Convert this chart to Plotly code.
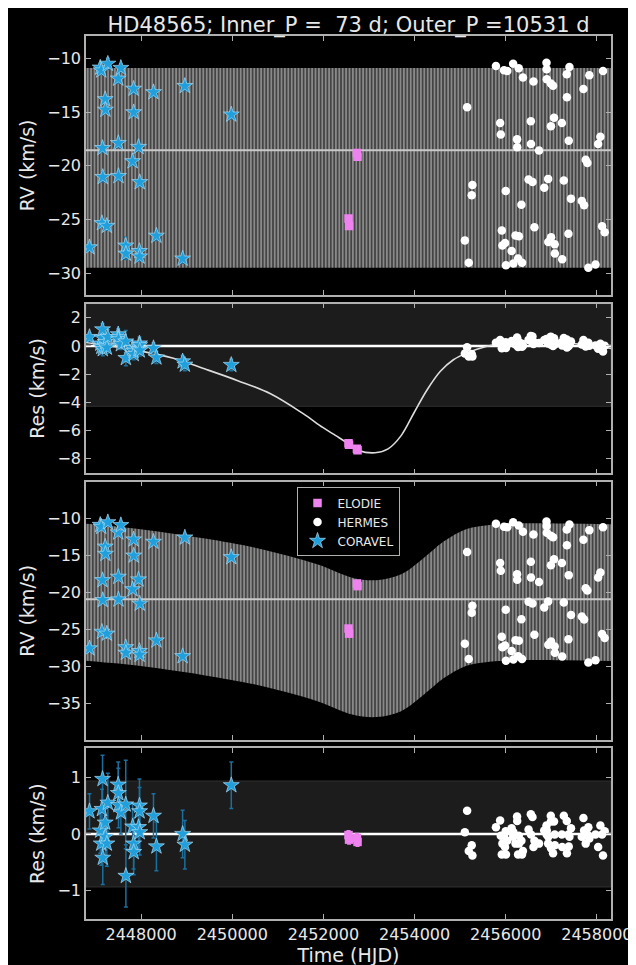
import plotly.graph_objects as go

TITLE = "HD48565; Inner_P =  73 d; Outer_P =10531 d"

# ---------------- data ----------------
coravel_t = [2446867, 2447103, 2447125, 2447140, 2447153, 2447158, 2447211, 2447216, 2447247, 2447269,
             2447497, 2447500, 2447503, 2447555, 2447662, 2447665, 2447813, 2447834, 2447837, 2447942,
             2447963, 2447966, 2447970, 2448271, 2448335, 2448910, 2448959, 2449978]
coravel_rv = [-27.6, -10.86, -11.12, -25.35, -18.35, -21.05, -13.8, -14.78, -25.6, -10.5,
              -11.88, -17.89, -20.96, -10.89, -27.44, -28.19, -19.58, -12.83, -15.02, -18.25,
              -27.95, -28.46, -21.53, -13.15, -26.52, -28.65, -12.57, -15.23]
coravel_res_inner = [0.63, 0.16, -0.07, 0.59, 1.17, -0.23, 0.27, 0.0, -0.12, 0.63,
                     0.82, 0.62, 0.47, 0.12, 0.31, -0.86, -0.15, -0.35, -0.58, -0.23,
                     0.17, 0.05, -0.32, -0.16, -0.82, -1.1, -1.33, -1.35]
coravel_res_full = [0.40, 0.06, -0.17, 0.44, 0.97, -0.42, 0.20, -0.05, -0.17, 0.55,
                    0.87, 0.72, 0.51, 0.38, 0.52, -0.74, 0.13, -0.17, -0.32, 0.12,
                    0.50, 0.40, 0.03, 0.32, -0.22, 0.0, -0.19, 0.86]
coravel_err = [0.31, 0.40, 0.38, 0.35, 0.42, 0.47, 0.40, 0.38, 0.40, 0.52,
               0.40, 0.44, 0.40, 0.38, 0.78, 0.55, 0.40, 0.45, 0.40, 0.40,
               0.47, 0.42, 0.40, 0.39, 0.43, 0.42, 0.43, 0.41]

elodie_t = [2452550, 2452562, 2452735, 2452748]
elodie_rv = [-24.9, -25.6, -18.8, -19.15]
elodie_res_inner = [-6.9, -7.0, -7.3, -7.4]
elodie_res_full = [-0.02, -0.10, -0.07, -0.14]
elodie_err = [0.08, 0.08, 0.08, 0.08]

hermes_t = [2455103, 2455153, 2455189, 2455254, 2455269, 2455785, 2455877, 2455892, 2455914, 2455927,
            2455963, 2455985, 2456000, 2456005, 2456034, 2456129, 2456163, 2456168, 2456215, 2456249,
            2456252, 2456271, 2456286, 2456290, 2456344, 2456357, 2456378, 2456501, 2456551, 2456554,
            2456587, 2456609, 2456630, 2456731, 2456845, 2456895, 2456898, 2456901, 2456931, 2456934,
            2456989, 2456992, 2456995, 2457039, 2457060, 2457075, 2457078, 2457232, 2457239, 2457275,
            2457340, 2457343, 2457376, 2457383, 2457398, 2457432, 2457669, 2457705, 2457720, 2457755,
            2457792, 2457813, 2457835, 2457970, 2458028, 2458077, 2458114, 2458135, 2458172]
hermes_rv = [-26.95, -14.54, -29.04, -22.75, -21.8, -10.7, -16.01, -17.08, -26.03, -27.42,
             -11.1, -27.2, -22.35, -29.26, -11.16, -27.94, -10.49, -29.1, -26.5, -17.54,
             -18.28, -28.64, -10.92, -26.56, -23.64, -29.04, -11.78, -21.28, -15.85, -17.97,
             -21.5, -12.14, -25.73, -18.58, -22.05, -10.4, -11.01, -11.93, -21.22, -27.11,
             -12.33, -16.31, -26.65, -12.54, -15.52, -27.32, -28.18, -16.01, -28.7, -21.37,
             -11.47, -13.62, -26.34, -17.66, -10.79, -23.06, -23.27, -12.85, -23.67, -19.44,
             -19.75, -29.5, -11.56, -29.19, -17.97, -17.3, -25.64, -11.16, -26.19]
hermes_res_inner = [-0.53, -0.09, -0.75, -0.58, -0.75, 0.22, 0.42, 0.15, -0.17, 0.02,
                    0.17, -0.03, 0.26, -0.15, 0.10, 0.35, 0.21, 0.29, 0.10, 0.59,
                    0.51, -0.08, 0.26, 0.12, 0.18, -0.06, 0.01, 0.43, 0.71, 0.35,
                    0.67, 0.14, 0.25, 0.20, 0.42, 0.50, 0.34, 0.41, 0.18, 0.30,
                    0.66, 0.56, 0.09, -0.01, 0.55, 0.31, 0.12, 0.26, 0.04, 0.57,
                    0.46, -0.11, 0.21, 0.0, 0.17, 0.31, 0.10, 0.42, 0.20, -0.04,
                    0.11, 0.23, 0.02, 0.04, -0.20, 0.16, -0.01, -0.39, 0.02]
hermes_res_full = [0.03, 0.41, -0.30, -0.20, -0.38, 0.12, 0.24, -0.03, -0.36, -0.17,
                   -0.03, -0.23, 0.05, -0.36, -0.12, 0.10, -0.05, 0.03, -0.17, 0.31,
                   0.23, -0.36, -0.03, -0.17, -0.12, -0.36, -0.30, 0.08, 0.35, -0.01,
                   0.30, -0.23, -0.12, -0.17, 0.06, 0.15, -0.01, 0.06, -0.17, -0.05,
                   0.32, 0.22, -0.25, -0.34, 0.22, -0.01, -0.20, -0.01, -0.23, 0.32,
                   0.23, -0.34, -0.01, -0.22, -0.05, 0.10, -0.05, 0.28, 0.06, -0.17,
                   -0.01, 0.12, -0.08, -0.01, -0.23, 0.15, -0.01, -0.38, 0.05]

# model envelopes
inner_env_t = [2446790, 2458310]
inner_upper = [-10.9, -10.9]
inner_lower = [-29.5, -29.5]
inner_gamma = -18.56

full_env_t = [2446790, 2447500, 2448329, 2449404, 2450480, 2451196, 2451914, 2452630, 2453168,
              2453705, 2454206, 2454637, 2455140, 2455641, 2456215, 2457300, 2458310]
full_upper = [-10.7, -11.1, -11.7, -12.7, -13.9, -15.0, -16.3, -18.0, -18.35,
              -17.55, -15.3, -13.1, -11.4, -10.85, -10.65, -10.65, -10.75]
full_lower = [-29.25, -29.65, -30.25, -31.25, -32.45, -33.55, -34.85, -36.55, -36.9,
              -36.1, -33.85, -31.65, -29.95, -29.4, -29.2, -29.2, -29.3]
full_gamma = -20.94

outer_t = [2446790, 2447970, 2448688, 2449404, 2450120, 2450839, 2451555, 2451985, 2452271, 2452559,
           2452774, 2453131, 2453419, 2453705, 2453991, 2454280, 2454566, 2454852, 2455140, 2455570,
           2456000, 2456572, 2457290, 2458310]
outer_res = [0.24, -0.35, -0.86, -1.64, -2.46, -3.39, -4.8, -5.78, -6.36, -6.95,
             -7.41, -7.58, -7.3, -6.36, -4.72, -3.09, -1.8, -0.98, -0.51, -0.04,
             0.24, 0.38, 0.24, -0.17]

band2 = [-4.28, 3.0]
band4 = [-0.935, 0.935]

x_range = [2446790, 2458310]
x_ticks = [2448000, 2450000, 2452000, 2454000, 2456000, 2458000]
y_ranges = {1: [-32.02, -7.91], 2: [-9.03, 3.0], 3: [-40.0, -5.0], 4: [-1.50, 1.51]}
y_ticks = {1: [-30, -25, -20, -15, -10], 2: [-8, -6, -4, -2, 0, 2],
           3: [-35, -30, -25, -20, -15, -10], 4: [-1, 0, 1]}
y_titles = {1: "RV (km/s)", 2: "Res (km/s)", 3: "RV (km/s)", 4: "Res (km/s)"}
domains = {1: [0.7069, 1.0], 2: [0.5048, 0.6969], 3: [0.2028, 0.4952], 4: [0.0, 0.1932]}

# ---------------- styles ----------------
FONT = "DejaVu Sans"
TXT = "#e8e8e8"
FRAME = "#b0b0b0"
STAR_COL = "#1f9fdb"
ERR_COL = "#1b6f9c"
ELODIE_COL = "#ee82ee"

fig = go.Figure()


def axn(i):
    return ("x" if i == 1 else f"x{i}"), ("y" if i == 1 else f"y{i}")


def add_band(i, t, up, lo):
    xa, ya = axn(i)
    fig.add_trace(go.Scatter(x=t, y=up, mode="lines", line=dict(width=0, shape="spline"),
                             xaxis=xa, yaxis=ya, showlegend=False, hoverinfo="skip"))
    fig.add_trace(go.Scatter(x=t, y=lo, mode="lines", line=dict(width=0, shape="spline"),
                             fill="tonexty",
                             fillpattern=dict(shape="|", fgcolor="#f0f0f0", bgcolor="#444444",
                                              size=3.4, solidity=0.4),
                             xaxis=xa, yaxis=ya, showlegend=False, hoverinfo="skip"))


def add_hline_trace(i, y, color, width):
    xa, ya = axn(i)
    fig.add_trace(go.Scatter(x=x_range, y=[y, y], mode="lines", line=dict(color=color, width=width),
                             xaxis=xa, yaxis=ya, showlegend=False, hoverinfo="skip"))


def add_data(i, e_vals, h_vals, c_vals, legend):
    xa, ya = axn(i)
    fig.add_trace(go.Scatter(x=elodie_t, y=e_vals, mode="markers", name="ELODIE",
                             marker=dict(symbol="square", size=8.5, color=ELODIE_COL, line=dict(width=0)),
                             error_y=dict(type="data", array=elodie_err, color=ELODIE_COL, thickness=1.2, width=2),
                             xaxis=xa, yaxis=ya, showlegend=legend))
    fig.add_trace(go.Scatter(x=hermes_t, y=h_vals, mode="markers", name="HERMES",
                             marker=dict(symbol="circle", size=8.5, color="white", line=dict(width=0)),
                             xaxis=xa, yaxis=ya, showlegend=legend))
    fig.add_trace(go.Scatter(x=coravel_t, y=c_vals, mode="markers", name="CORAVEL",
                             marker=dict(symbol="star", size=12, color=STAR_COL,
                                         line=dict(color="#a8d8f0", width=0.7)),
                             error_y=dict(type="data", array=coravel_err, color=ERR_COL, thickness=1.5, width=2),
                             xaxis=xa, yaxis=ya, showlegend=legend))


# panel 1: inner-orbit model
add_band(1, inner_env_t, inner_upper, inner_lower)
add_hline_trace(1, inner_gamma, "#c8c8c8", 2)
add_data(1, elodie_rv, hermes_rv, coravel_rv, False)

# panel 2: residuals of inner orbit, outer orbit curve
xa, ya = axn(2)
fig.add_trace(go.Scatter(x=outer_t, y=outer_res, mode="lines", line=dict(color="#dcdcdc", width=1.6, shape="spline"),
                         xaxis=xa, yaxis=ya, showlegend=False, hoverinfo="skip"))
add_data(2, elodie_res_inner, hermes_res_inner, coravel_res_inner, False)

# panel 3: full model
add_band(3, full_env_t, full_upper, full_lower)
add_hline_trace(3, full_gamma, "#c8c8c8", 2)
add_data(3, elodie_rv, hermes_rv, coravel_rv, True)

# panel 4: residuals of the full model
add_data(4, elodie_res_full, hermes_res_full, coravel_res_full, False)

# shapes: grey bands and zero lines
shapes = []
for i, band in ((2, band2), (4, band4)):
    xa, ya = axn(i)
    shapes.append(dict(type="rect", xref=f"{xa} domain", yref=ya, x0=0, x1=1, y0=band[0], y1=band[1],
                       fillcolor="#1c1c1c", line=dict(color="#303030", width=1), layer="below"))
    shapes.append(dict(type="line", xref=f"{xa} domain", yref=ya, x0=0, x1=1, y0=0, y1=0,
                       line=dict(color="white", width=2.5), layer="below"))

axis_common = dict(showline=True, linecolor=FRAME, linewidth=1.5, mirror="ticks", ticks="inside",
                   ticklen=5, tickwidth=1, tickcolor=FRAME, showgrid=False, zeroline=False,
                   tickfont=dict(family=FONT, size=16, color=TXT))

layout = dict(
    width=636, height=965,
    margin=dict(l=78, r=23, t=28, b=43),
    paper_bgcolor="black", plot_bgcolor="black",
    font=dict(family=FONT, color=TXT),
    title=dict(text=TITLE, x=0.5, xref="paper", xanchor="center", y=1 - 17 / 965, yref="container",
               yanchor="middle", font=dict(family=FONT, size=21, color=TXT)),
    shapes=shapes,
    legend=dict(x=0.401, y=0.4888, xanchor="left", yanchor="top", bgcolor="black",
                bordercolor=FRAME, borderwidth=1, font=dict(family=FONT, size=12, color=TXT),
                traceorder="normal"),
    showlegend=True,
)

for i in range(1, 5):
    xa, ya = axn(i)
    xkey = "xaxis" if i == 1 else f"xaxis{i}"
    ykey = "yaxis" if i == 1 else f"yaxis{i}"
    xd = dict(axis_common, anchor=ya, domain=[0, 1], range=x_range, tickvals=x_ticks,
              tickformat="d", showticklabels=(i == 4))
    if i > 1:
        xd["matches"] = "x"
    if i == 4:
        xd["title"] = dict(text="Time (HJD)", font=dict(family=FONT, size=19, color=TXT), standoff=4)
    layout[xkey] = xd
    layout[ykey] = dict(axis_common, anchor=xa, domain=domains[i], range=y_ranges[i], tickvals=y_ticks[i],
                        title=dict(text=y_titles[i], font=dict(family=FONT, size=19, color=TXT), standoff=8))

fig.update_layout(**layout)
fig.write_html("out.html")
